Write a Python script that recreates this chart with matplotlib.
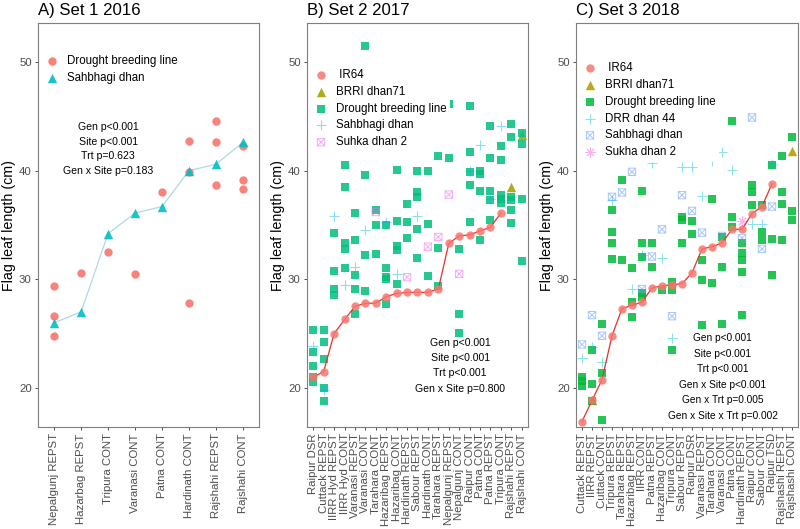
import matplotlib
matplotlib.use('Agg')
import matplotlib.pyplot as plt
from matplotlib.path import Path

plt.rcParams['font.family'] = ['Liberation Sans', 'DejaVu Sans']

# ---------------- Set 1 2016 ----------------
a_sites = ["Nepalgunj REPST", "Hazarbag REPST", "Tripura CONT", "Varanasi CONT",
           "Patna CONT", "Hardinath CONT", "Rajshahi REPST", "Rajshahi CONT"]
a_drought = {
    "Nepalgunj REPST": [29.4, 26.6, 24.8],
    "Hazarbag REPST": [30.6],
    "Tripura CONT": [32.5],
    "Varanasi CONT": [30.5],
    "Patna CONT": [38.0],
    "Hardinath CONT": [42.7, 39.9, 27.85],
    "Rajshahi REPST": [44.6, 42.65, 38.7],
    "Rajshahi CONT": [42.3, 39.1, 38.3],
}
a_sahbhagi = [26.0, 27.0, 34.2, 36.1, 36.7, 40.0, 40.6, 42.6]
a_stats = ["Gen p<0.001", "Site p<0.001", "Trt p=0.623", "Gen x Site p=0.183"]

# ---------------- Set 2 2017 ----------------
b_sites = ["Raipur DSR", "Cuttack REPST", "IIRR Hyd REPST", "IIRR Hyd CONT",
           "Varanasi REPST", "Varanasi CONT", "Tarahara CONT", "Hazaribag REPST",
           "Hazaribag CONT", "Hardinath REPST", "Sabour REPST", "Hardinath CONT",
           "Tarahara REPST", "Nepalgunj REPST", "Nepalgunj CONT", "Raipur CONT",
           "Patna CONT", "Patna REPST", "Tripura CONT", "Rajshahi REPST",
           "Rajshahi CONT"]
b_ir64 = [21.0, 21.5, 25.0, 26.3, 27.5, 27.8, 27.8, 28.4, 28.7, 28.8, 28.8,
          28.8, 29.1, 33.3, 34.0, 34.1, 34.45, 34.8, 36.1]
b_brri = {"Rajshahi REPST": [38.5], "Rajshahi CONT": [43.3]}
b_drought = {
    "Raipur DSR": [25.3, 23.3, 22.0, 21.0, 20.5],
    "Cuttack REPST": [25.3, 24.2, 22.7, 20.0, 18.8],
    "IIRR Hyd REPST": [34.3, 30.8, 29.1, 28.6],
    "IIRR Hyd CONT": [40.5, 38.5, 33.3, 32.8, 31.0],
    "Varanasi REPST": [36.1, 33.6, 30.4, 29.1, 26.8],
    "Varanasi CONT": [51.5, 39.6, 32.2, 28.9],
    "Tarahara CONT": [36.4, 35.0, 32.3],
    "Hazaribag REPST": [35.0, 31.0, 30.2, 30.0, 27.7],
    "Hazaribag CONT": [40.1, 35.4, 33.1, 32.7, 29.6],
    "Hardinath REPST": [36.9, 35.3, 33.8],
    "Sabour REPST": [40.0, 38.0, 37.6, 34.6, 32.0],
    "Hardinath CONT": [40.0, 35.1, 30.3],
    "Tarahara REPST": [41.4, 32.9, 29.4],
    "Nepalgunj REPST": [46.1, 41.2],
    "Nepalgunj CONT": [32.8, 26.8, 25.1],
    "Raipur CONT": [46.0, 41.75, 39.9, 38.7, 35.3],
    "Patna CONT": [40.0, 39.7, 38.1, 33.6],
    "Patna REPST": [44.1, 41.2, 38.1, 37.3, 35.5],
    "Tripura CONT": [42.3, 41.0, 37.8, 37.4, 37.0],
    "Rajshahi REPST": [44.3, 43.1, 37.6, 37.3, 36.4, 35.2],
    "Rajshahi CONT": [43.5, 42.5, 37.35, 31.7],
}
b_sahbhagi = {
    "Raipur DSR": [23.9], "Cuttack REPST": [19.8], "IIRR Hyd REPST": [35.8],
    "IIRR Hyd CONT": [29.5], "Varanasi REPST": [31.1], "Varanasi CONT": [34.5],
    "Hazaribag REPST": [35.3], "Hazaribag CONT": [30.5], "Sabour REPST": [35.8],
    "Raipur CONT": [40.0], "Patna CONT": [42.4], "Patna REPST": [37.4],
    "Tripura CONT": [44.1],
}
b_suhka = {
    "Tarahara CONT": [36.2], "Hardinath REPST": [30.2], "Hardinath CONT": [33.0],
    "Tarahara REPST": [33.9], "Nepalgunj REPST": [37.8], "Nepalgunj CONT": [30.5],
}
b_stats = ["Gen p<0.001", "Site p<0.001", "Trt p<0.001", "Gen x Site p=0.800"]

# ---------------- Set 3 2018 ----------------
c_sites = ["Cuttack REPST", "IIRR REPST", "Cuttack CONT", "Tripura REPST",
           "Tarahara REPST", "Hazaribag REPST", "IIRR CONT", "Patna REPST",
           "Hazaribag CONT", "Tripura CONT", "Sabour REPST", "Raipur DSR",
           "Varanasi REPST", "Tarahara CONT", "Varanasi CONT", "Patna CONT",
           "Hardinath REPST", "Raipur CONT", "Sabour CONT", "Raipur TSD",
           "Rajshashi REPST", "Rajshashi CONT"]
c_ir64 = [16.9, 18.85, 20.75, 24.8, 27.3, 27.6, 27.9, 29.2, 29.4, 29.5, 29.6,
          30.6, 32.8, 33.0, 33.35, 34.6, 34.6, 36.05, 36.7, 38.8]
c_brri = {"IIRR REPST": [18.85], "Rajshashi CONT": [41.8]}
c_drought = {
    "Cuttack REPST": [21.0, 20.6, 20.2],
    "IIRR REPST": [23.5, 20.4, 18.8],
    "Cuttack CONT": [25.9, 21.4, 17.0],
    "Tripura REPST": [36.4, 34.4, 33.3, 31.9],
    "Tarahara REPST": [39.1, 31.8],
    "Hazaribag REPST": [31.0, 27.9, 26.5],
    "IIRR CONT": [38.1, 33.35, 32.1, 28.7, 28.4],
    "Patna REPST": [33.3, 31.1],
    "Hazaribag CONT": [29.0],
    "Tripura CONT": [29.75, 29.0, 23.5],
    "Sabour REPST": [35.75, 35.5, 33.35],
    "Raipur DSR": [35.4, 34.2],
    "Varanasi REPST": [31.75, 29.9, 25.8],
    "Tarahara CONT": [37.35, 29.7],
    "Varanasi CONT": [33.9, 31.1, 25.9],
    "Patna CONT": [44.6, 35.75, 34.8],
    "Hardinath REPST": [33.35, 32.4, 31.75, 30.7, 26.7],
    "Raipur CONT": [38.7, 38.05, 36.8],
    "Sabour CONT": [36.8, 34.4, 33.6],
    "Raipur TSD": [40.5, 33.7, 30.4],
    "Rajshashi REPST": [41.35, 38.0, 36.9, 33.65],
    "Rajshashi CONT": [43.1, 36.3, 35.5],
}
c_drr = {
    "Cuttack REPST": [22.8], "IIRR REPST": [23.8], "Cuttack CONT": [22.4],
    "Tripura REPST": [37.3], "Hazaribag REPST": [29.1], "IIRR CONT": [32.2],
    "Patna REPST": [40.7], "Hazaribag CONT": [32.0], "Tripura CONT": [24.6],
    "Sabour REPST": [40.35], "Raipur DSR": [40.35], "Varanasi REPST": [37.7],
    "Tarahara CONT": [40.9], "Varanasi CONT": [41.7], "Patna CONT": [40.1],
    "Raipur CONT": [35.1], "Sabour CONT": [35.1], "Raipur TSD": [40.6],
}
c_sahbhagi = {
    "Cuttack REPST": [24.0], "IIRR REPST": [26.7], "Cuttack CONT": [24.8],
    "Tripura REPST": [37.6], "Tarahara REPST": [38.0], "Hazaribag REPST": [39.9],
    "IIRR CONT": [29.1], "Patna REPST": [32.1], "Hazaribag CONT": [34.6],
    "Tripura CONT": [26.6], "Sabour REPST": [37.75], "Raipur DSR": [36.3],
    "Varanasi REPST": [34.3], "Varanasi CONT": [34.0], "Hardinath REPST": [33.8],
    "Raipur CONT": [44.9], "Sabour CONT": [32.8], "Raipur TSD": [36.7],
}
c_sukha = {"Hardinath REPST": [35.4]}
c_stats = ["Gen p<0.001", "Site p<0.001", "Trt p<0.001", "Gen x Site p<0.001",
           "Gen x Trt p=0.005", "Gen x Site x Trt p=0.002"]


def expand(sites, d):
    xs, ys = [], []
    for s, vals in d.items():
        for v in vals:
            xs.append(sites.index(s) + 1)
            ys.append(v)
    return xs, ys


# square with a cross inside (ggplot shape 7)
boxx = Path([(-1, -1), (1, -1), (1, 1), (-1, 1), (-1, -1),
             (-1, -1), (1, 1), (-1, 1), (1, -1)],
            [Path.MOVETO, Path.LINETO, Path.LINETO, Path.LINETO, Path.CLOSEPOLY,
             Path.MOVETO, Path.LINETO, Path.MOVETO, Path.LINETO])

TICK_GREY = '#4D4D4D'
S_CIRC, S_SQ, S_TRI, S_PLUS, S_BOX = 36, 30, 46, 55, 28


def style(ax, sites, title):
    ax.set_xlim(0.4, len(sites) + 0.6)
    ax.set_ylim(16.4, 53.6)
    ax.set_xticks(range(1, len(sites) + 1))
    ax.set_xticklabels(sites, rotation=90, fontsize=8.2, color=TICK_GREY)
    ax.set_yticks([20, 30, 40, 50])
    ax.tick_params(axis='y', labelsize=8.2, labelcolor=TICK_GREY)
    ax.tick_params(length=2.5, width=0.6, color='#333333', pad=2)
    for sp in ax.spines.values():
        sp.set_color('#7F7F7F')
        sp.set_linewidth(0.8)
    ax.set_ylabel('Flag leaf length (cm)', fontsize=10.3, labelpad=2.5)
    ax.set_title(title, loc='left', fontsize=12.1, pad=6)


def add_legend(ax, handles, labels, ytop):
    leg = ax.legend(handles, labels, loc='upper left',
                    bbox_to_anchor=(0.0215, ytop), borderaxespad=0,
                    fontsize=8.3, frameon=True, fancybox=False, edgecolor='none',
                    facecolor='white', framealpha=1, handlelength=1.0,
                    handletextpad=0.8, labelspacing=0.42, borderpad=0.3)
    leg.set_zorder(10)


def stats(ax, x, y0, step, lines, size):
    for i, t in enumerate(lines):
        ax.text(x, y0 - i * step, t, ha='center', va='center', fontsize=size)


fig = plt.figure(figsize=(8, 5.29), dpi=100)
ax_a = fig.add_axes([0.0475, 0.1928, 0.27625, 0.7637])
ax_b = fig.add_axes([0.38375, 0.1928, 0.27625, 0.7637])
ax_c = fig.add_axes([0.72, 0.1928, 0.2775, 0.7637])

# ---- panel A ----
xa = list(range(1, len(a_sites) + 1))
x, y = expand(a_sites, a_drought)
a_h_dr = ax_a.scatter(x, y, s=S_CIRC, marker='o', color='#F8766D', alpha=0.9,
                      linewidths=0, zorder=3)
ax_a.plot(xa, a_sahbhagi, color='lightblue', lw=0.9, zorder=2)
a_h_sah = ax_a.scatter(xa, a_sahbhagi, s=S_TRI, marker='^', color='#00BFC4',
                       alpha=0.9, linewidths=0, zorder=4)
style(ax_a, a_sites, 'A) Set 1 2016')
add_legend(ax_a, [a_h_dr, a_h_sah], ['Drought breeding line', 'Sahbhagi dhan'],
           0.93)
stats(ax_a, 3.0, 44.0, 1.334, a_stats, 7.6)

# ---- panel B ----
xb = list(range(1, len(b_ir64) + 1))
x, y = expand(b_sites, b_drought)
h_drought = ax_b.scatter(x, y, s=S_SQ, marker='s', color='#00BF7D', alpha=0.85,
                         linewidths=0, zorder=2)
x, y = expand(b_sites, b_sahbhagi)
h_sah = ax_b.scatter(x, y, s=S_PLUS, marker='+', color='#00B0F6', alpha=0.45,
                     linewidths=0.8, zorder=3)
x, y = expand(b_sites, b_suhka)
h_suh = ax_b.scatter(x, y, s=S_BOX, marker=boxx, facecolors='none',
                     edgecolors='#E76BF3', alpha=0.55, linewidths=0.7, zorder=3)
x, y = expand(b_sites, b_brri)
h_brri = ax_b.scatter(x, y, s=S_TRI, marker='^', color='#A3A500', alpha=0.9,
                      linewidths=0, zorder=1.5)
ax_b.plot(xb, b_ir64, color='#E8302A', lw=0.9, zorder=4)
h_ir = ax_b.scatter(xb, b_ir64, s=S_CIRC, marker='o', color='#F8766D',
                    alpha=0.85, linewidths=0, zorder=5)
style(ax_b, b_sites, 'B) Set 2 2017')
add_legend(ax_b, [h_ir, h_brri, h_drought, h_sah, h_suh],
           [' IR64', 'BRRI dhan71', 'Drought breeding line', 'Sahbhagi dhan',
            'Suhka dhan 2'], 0.895)
stats(ax_b, 15.1, 24.17, 1.42, b_stats, 7.6)

# ---- panel C ----
xc = list(range(1, len(c_ir64) + 1))
x, y = expand(c_sites, c_drought)
c_h_drought = ax_c.scatter(x, y, s=S_SQ, marker='s', color='#00BA38',
                           alpha=0.85, linewidths=0, zorder=2)
x, y = expand(c_sites, c_drr)
c_h_drr = ax_c.scatter(x, y, s=S_PLUS, marker='+', color='#00BFC4', alpha=0.45,
                       linewidths=0.8, zorder=3)
x, y = expand(c_sites, c_sahbhagi)
c_h_sah = ax_c.scatter(x, y, s=S_BOX, marker=boxx, facecolors='none',
                       edgecolors='#619CFF', alpha=0.55, linewidths=0.7,
                       zorder=3)
x, y = expand(c_sites, c_sukha)
c_h_suk = ax_c.scatter(x, y, s=46, marker=(8, 2, 0), color='#F564E3',
                       alpha=0.5, linewidths=0.7, zorder=3)
x, y = expand(c_sites, c_brri)
c_h_brri = ax_c.scatter(x, y, s=S_TRI, marker='^', color='#B79F00', alpha=0.9,
                        linewidths=0, zorder=1.5)
ax_c.plot(xc, c_ir64, color='#E8302A', lw=0.9, zorder=4)
c_h_ir = ax_c.scatter(xc, c_ir64, s=S_CIRC, marker='o', color='#F8766D',
                      alpha=0.85, linewidths=0, zorder=5)
style(ax_c, c_sites, 'C) Set 3 2018')
add_legend(ax_c, [c_h_ir, c_h_brri, c_h_drought, c_h_drr, c_h_sah, c_h_suk],
           [' IR64', 'BRRI dhan71', 'Drought breeding line', 'DRR dhan 44',
            'Sahbhagi dhan', 'Sukha dhan 2'], 0.912)
stats(ax_c, 15.05, 24.57, 1.426, c_stats, 7.3)

fig.savefig('out.png', dpi=100)
